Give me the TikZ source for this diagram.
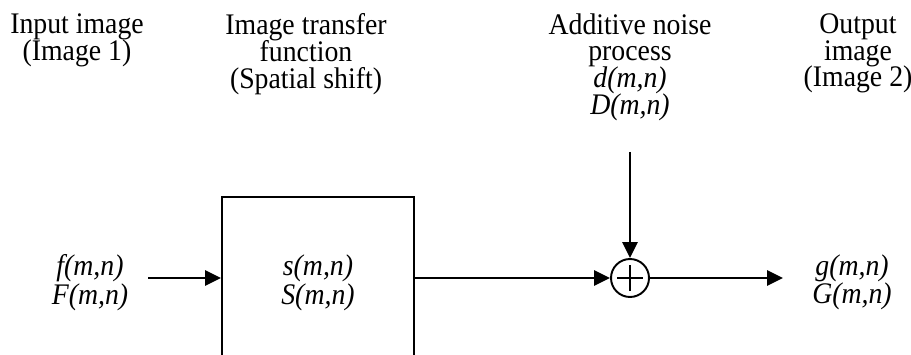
\documentclass[tikz,border=0pt]{standalone}
\usepackage{fontspec}
\setmainfont[FakeStretch=0.93]{Liberation Serif}
\usetikzlibrary{arrows.meta,positioning}
\newcommand\ttlfont{\fontsize{17}{15.3}\selectfont\lineskiplimit=-10pt\relax}
\newcommand\sigfont{\fontsize{17}{16.4}\selectfont\itshape\lineskiplimit=-10pt\relax}
\tikzset{
  blk/.style={draw,line width=1.2pt,minimum width=3.84cm,minimum height=3.44cm,
              align=center,inner sep=0pt,font=\sigfont},
  sm/.style={draw,circle,line width=1.1pt,minimum size=.76cm,inner sep=0pt},
  ar/.style={-{Triangle[length=9pt,width=8.5pt]},line width=1.4pt},
  hdr/.style={anchor=north,align=center,inner sep=0pt,font=\ttlfont},
  lbl/.style={hdr,font=\sigfont},
}
\begin{document}
\begin{tikzpicture}[x=.2mm,y=.2mm]
  \useasboundingbox (0,0) rectangle (911,354);
  \clip (0,0) rectangle (911,354);
  % headings
  \node[hdr] (inh)  at (77,341)  {Input image\\(Image 1)};
  \node[hdr] (tfh)  at (306,341) {Image transfer\\function\\(Spatial shift)};
  \node[hdr] (nzh)  at (630,341) {Additive noise\\process\\\textit{d(m,n)}\\\textit{D(m,n)}};
  \node[hdr] (outh) at (858,341) {Output\\image\\(Image 2)};
  % signals
  \node[lbl] (fin)  at (90,100)  {f(m,n)\\F(m,n)};
  \node[lbl] (gout) at (852,100) {g(m,n)\\G(m,n)};
  % blocks
  \node[blk] (tf) at (318,71) {s(m,n)\\S(m,n)};
  \node[sm] (sum) at (630,76) {};
  \draw[line width=.9pt] (sum.center) ++(-13,0) -- ++(26,0)
                         (sum.center) ++(0,-13) -- ++(0,26);
  \coordinate (in)  at (148,76);
  \coordinate (out) at (783,76);
  \coordinate (nz)  at (630,202);
  \draw[ar] (in) -- (in -| tf.west);
  \draw[ar] (tf.east |- sum) -- (sum);
  \draw[ar] (nz) -- (sum);
  \draw[ar] (sum) -- (out);
\end{tikzpicture}
\end{document}
